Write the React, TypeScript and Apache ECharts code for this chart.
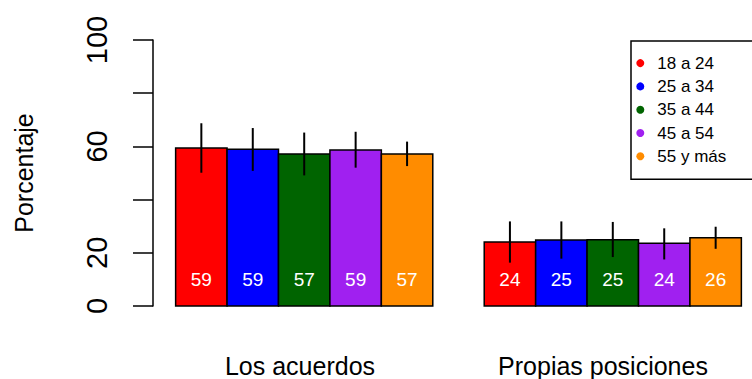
import React, { useEffect, useRef } from "react";
import * as echarts from "echarts";

// Response categories (groups of bars) and age brackets (bars within a group)
const categories = ["Los acuerdos", "Propias posiciones"];
const ageGroups = ["18 a 24", "25 a 34", "35 a 44", "45 a 54", "55 y más"];
const ageColors = ["#FF0000", "#0000FF", "#006400", "#A020F0", "#FF8C00"];

// Percentages per age bracket, one value per category
const values18to24 = [59.4, 24.1];
const values25to34 = [58.9, 24.8];
const values35to44 = [57.1, 24.9];
const values45to54 = [58.6, 23.6];
const values55plus = [57.1, 25.7];

// Lower / upper ends of the error bars
const low18to24 = [50.1, 16.3];
const high18to24 = [68.7, 31.8];
const low25to34 = [50.8, 17.8];
const high25to34 = [66.9, 31.8];
const low35to44 = [49.1, 18.4];
const high35to44 = [65.2, 31.6];
const low45to54 = [52.0, 17.5];
const high45to54 = [65.5, 29.2];
const low55plus = [52.6, 21.5];
const high55plus = [61.8, 29.8];

const yTicks = [0, 20, 40, 60, 80, 100];
const yTickLabels = ["0", "20", "", "60", "", "100"];

const FONT = "Liberation Sans, Arial, Helvetica, sans-serif";

export default function App() {
  const ref = useRef<HTMLDivElement>(null);

  useEffect(() => {
    if (!ref.current) return;
    const chart = echarts.init(ref.current, undefined, { renderer: "svg" });

    const values = [values18to24, values25to34, values35to44, values45to54, values55plus];
    const lows = [low18to24, low25to34, low35to44, low45to54, low55plus];
    const highs = [high18to24, high25to34, high35to44, high45to54, high55plus];
    const nBars = ageGroups.length;
    // barplot layout: one empty bar-width before each group, bars one unit wide,
    // x range padded by 4% on both sides
    const span = categories.length * (nBars + 1) - 1;
    const xMin = 1 - 0.04 * span;
    const xMax = 1 + span + 0.04 * span;

    const barSeries = ageGroups.map((name, i) => ({
      type: "custom",
      name,
      color: ageColors[i],
      encode: { x: 0, y: 1 },
      clip: false,
      data: categories.map((_, g) => [g, values[i][g], lows[i][g], highs[i][g]]),
      renderItem: (_params: any, api: any) => {
        const g = api.value(0);
        const v = api.value(1);
        const lo = api.value(2);
        const hi = api.value(3);
        const left = 1 + g * (nBars + 1) + i;
        const mid = left + 0.5;
        const p0 = api.coord([left, 0]);
        const p1 = api.coord([left + 1, v]);
        const e0 = api.coord([mid, lo]);
        const e1 = api.coord([mid, hi]);
        const t = api.coord([mid, 10]);
        return {
          type: "group",
          children: [
            {
              type: "rect",
              shape: { x: p0[0], y: p1[1], width: p1[0] - p0[0], height: p0[1] - p1[1] },
              style: { fill: ageColors[i], stroke: "#000", lineWidth: 1.5 },
            },
            {
              type: "line",
              shape: { x1: e0[0], y1: e0[1], x2: e1[0], y2: e1[1] },
              style: { stroke: "#000", lineWidth: 2 },
              z2: 10,
            },
            {
              type: "text",
              x: t[0],
              y: t[1],
              style: {
                text: String(Math.round(v)),
                fill: "#fff",
                fontSize: 19,
                fontFamily: FONT,
                align: "center",
                verticalAlign: "middle",
              },
              z2: 10,
            },
          ],
        };
      },
    }));

    chart.setOption({
      animation: false,
      backgroundColor: "#fff",
      grid: {
        left: 153,
        top: 40,
        width: 611,
        height: 266,
        containLabel: false,
        outerBoundsMode: "none",
      },
      xAxis: { type: "value", min: xMin, max: xMax, show: false },
      yAxis: {
        type: "value",
        min: 0,
        max: 100,
        interval: 20,
        axisLine: { show: true, lineStyle: { color: "#000", width: 1.5 } },
        axisTick: { show: true, length: 20, lineStyle: { color: "#000", width: 1.5 } },
        splitLine: { show: false },
        axisLabel: {
          rotate: 90,
          margin: 42,
          fontSize: 29,
          color: "#000",
          fontFamily: FONT,
          formatter: (v: number) => yTickLabels[yTicks.indexOf(v)] ?? "",
        },
      },
      legend: {
        data: ageGroups,
        orient: "vertical",
        left: 631,
        top: 41,
        icon: "circle",
        itemWidth: 24,
        itemHeight: 8,
        itemGap: 6.3,
        selectedMode: false,
        borderColor: "#000",
        borderWidth: 1.5,
        borderRadius: 0,
        padding: [13.6, 28, 14.4, 5.3],
        textStyle: { fontSize: 17, lineHeight: 16, color: "#000", fontFamily: FONT },
      },
      graphic: [
        {
          type: "text",
          x: 24,
          y: 173,
          rotation: Math.PI / 2,
          style: {
            text: "Porcentaje",
            fontSize: 25,
            fontFamily: FONT,
            fill: "#000",
            align: "center",
            verticalAlign: "middle",
          },
        },
        {
          type: "text",
          x: 300,
          y: 366,
          style: {
            text: categories[0],
            fontSize: 25,
            fontFamily: FONT,
            fill: "#000",
            align: "center",
            verticalAlign: "middle",
          },
        },
        {
          type: "text",
          x: 603,
          y: 366,
          style: {
            text: categories[1],
            fontSize: 25,
            fontFamily: FONT,
            fill: "#000",
            align: "center",
            verticalAlign: "middle",
          },
        },
      ],
      series: barSeries,
    });

    return () => chart.dispose();
  }, []);

  return (
    <div
      ref={ref}
      style={{ position: "fixed", left: 0, top: 0, width: 752, height: 379 }}
    />
  );
}
